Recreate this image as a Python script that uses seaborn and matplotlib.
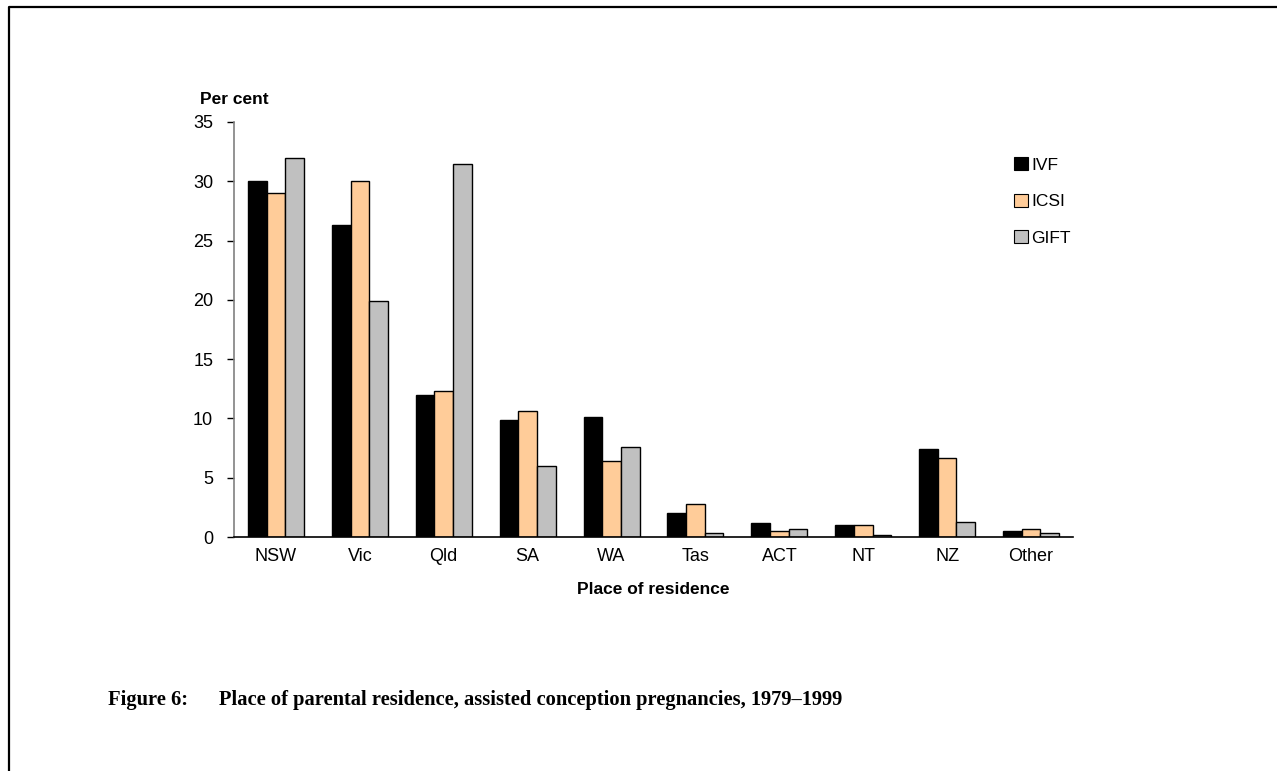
import matplotlib
matplotlib.use("Agg")
import matplotlib.pyplot as plt
import pandas as pd
import seaborn as sns
from matplotlib.lines import Line2D
from matplotlib.patches import Patch

places = ["NSW", "Vic", "Qld", "SA", "WA", "Tas", "ACT", "NT", "NZ", "Other"]
ivf = [30.0, 26.3, 12.0, 9.9, 10.1, 2.0, 1.2, 1.0, 7.4, 0.5]
icsi = [29.0, 30.0, 12.3, 10.6, 6.4, 2.8, 0.5, 1.0, 6.7, 0.7]
gift = [32.0, 19.9, 31.5, 6.0, 7.6, 0.3, 0.7, 0.2, 1.3, 0.3]
methods = ["IVF", "ICSI", "GIFT"]
colours = ["#000000", "#FFCC99", "#C0C0C0"]

df = pd.DataFrame({"place": places, "IVF": ivf, "ICSI": icsi, "GIFT": gift})
long = df.melt(id_vars="place", var_name="method", value_name="pct")

sns.set_style("white")
plt.rcParams["font.family"] = ["Liberation Sans", "DejaVu Sans"]
plt.rcParams.update({"text.color": "black", "axes.labelcolor": "black",
                     "xtick.color": "black", "ytick.color": "black"})

W, H = 1277, 771
fig = plt.figure(figsize=(W / 100, H / 100), dpi=100)
ax = fig.add_axes([234 / W, 1 - 537 / H, (1073 - 234) / W, (537 - 122) / H])

sns.barplot(
    data=long, x="place", y="pct", hue="method", order=places,
    hue_order=methods, palette=colours, width=0.667, saturation=1,
    edgecolor="black", linewidth=1.0, ax=ax, legend=False,
)

ax.set_xlim(-0.5, 9.5)
ax.set_ylim(0, 35)
ax.set_yticks(range(0, 36, 5))
ax.tick_params(axis="y", direction="out", length=5, width=1, labelsize=13,
               left=True, pad=10)
ax.tick_params(axis="x", length=0, labelsize=13, pad=8)
for side in ["top", "right"]:
    ax.spines[side].set_visible(False)
ax.spines["left"].set_color("#808080")
ax.spines["left"].set_linewidth(1.2)
ax.spines["bottom"].set_color("black")
ax.spines["bottom"].set_linewidth(1.2)

ax.set_xlabel("Place of residence", fontsize=12.5, fontweight="bold", labelpad=12)
ax.set_ylabel("")
fig.text(200 / W, 1 - 100 / H, "Per cent", fontsize=12.5, fontweight="bold",
         va="center", ha="left")

handles = [Patch(facecolor=c, edgecolor="black", linewidth=0.8) for c in colours]
ax.legend(handles, methods, loc="upper left", bbox_to_anchor=(0.911, 0.953),
          frameon=False, fontsize=12.5, handlelength=0.8, handleheight=0.8,
          handletextpad=0.2, labelspacing=1.2)

fig.text(108 / W, 1 - 700 / H,
         "Figure 6:      Place of parental residence, assisted conception pregnancies, 1979\u20131999",
         fontsize=14.8, fontweight="bold", family=["Liberation Serif", "DejaVu Serif"],
         va="center", ha="left")

# page frame: only top and left edges show in the crop
fig.lines.append(Line2D([8.5 / W, 8.5 / W, 1.0], [0.0, 1 - 7 / H, 1 - 7 / H],
                        transform=fig.transFigure, color="black", linewidth=1.6))

fig.savefig("out.png", dpi=100)
